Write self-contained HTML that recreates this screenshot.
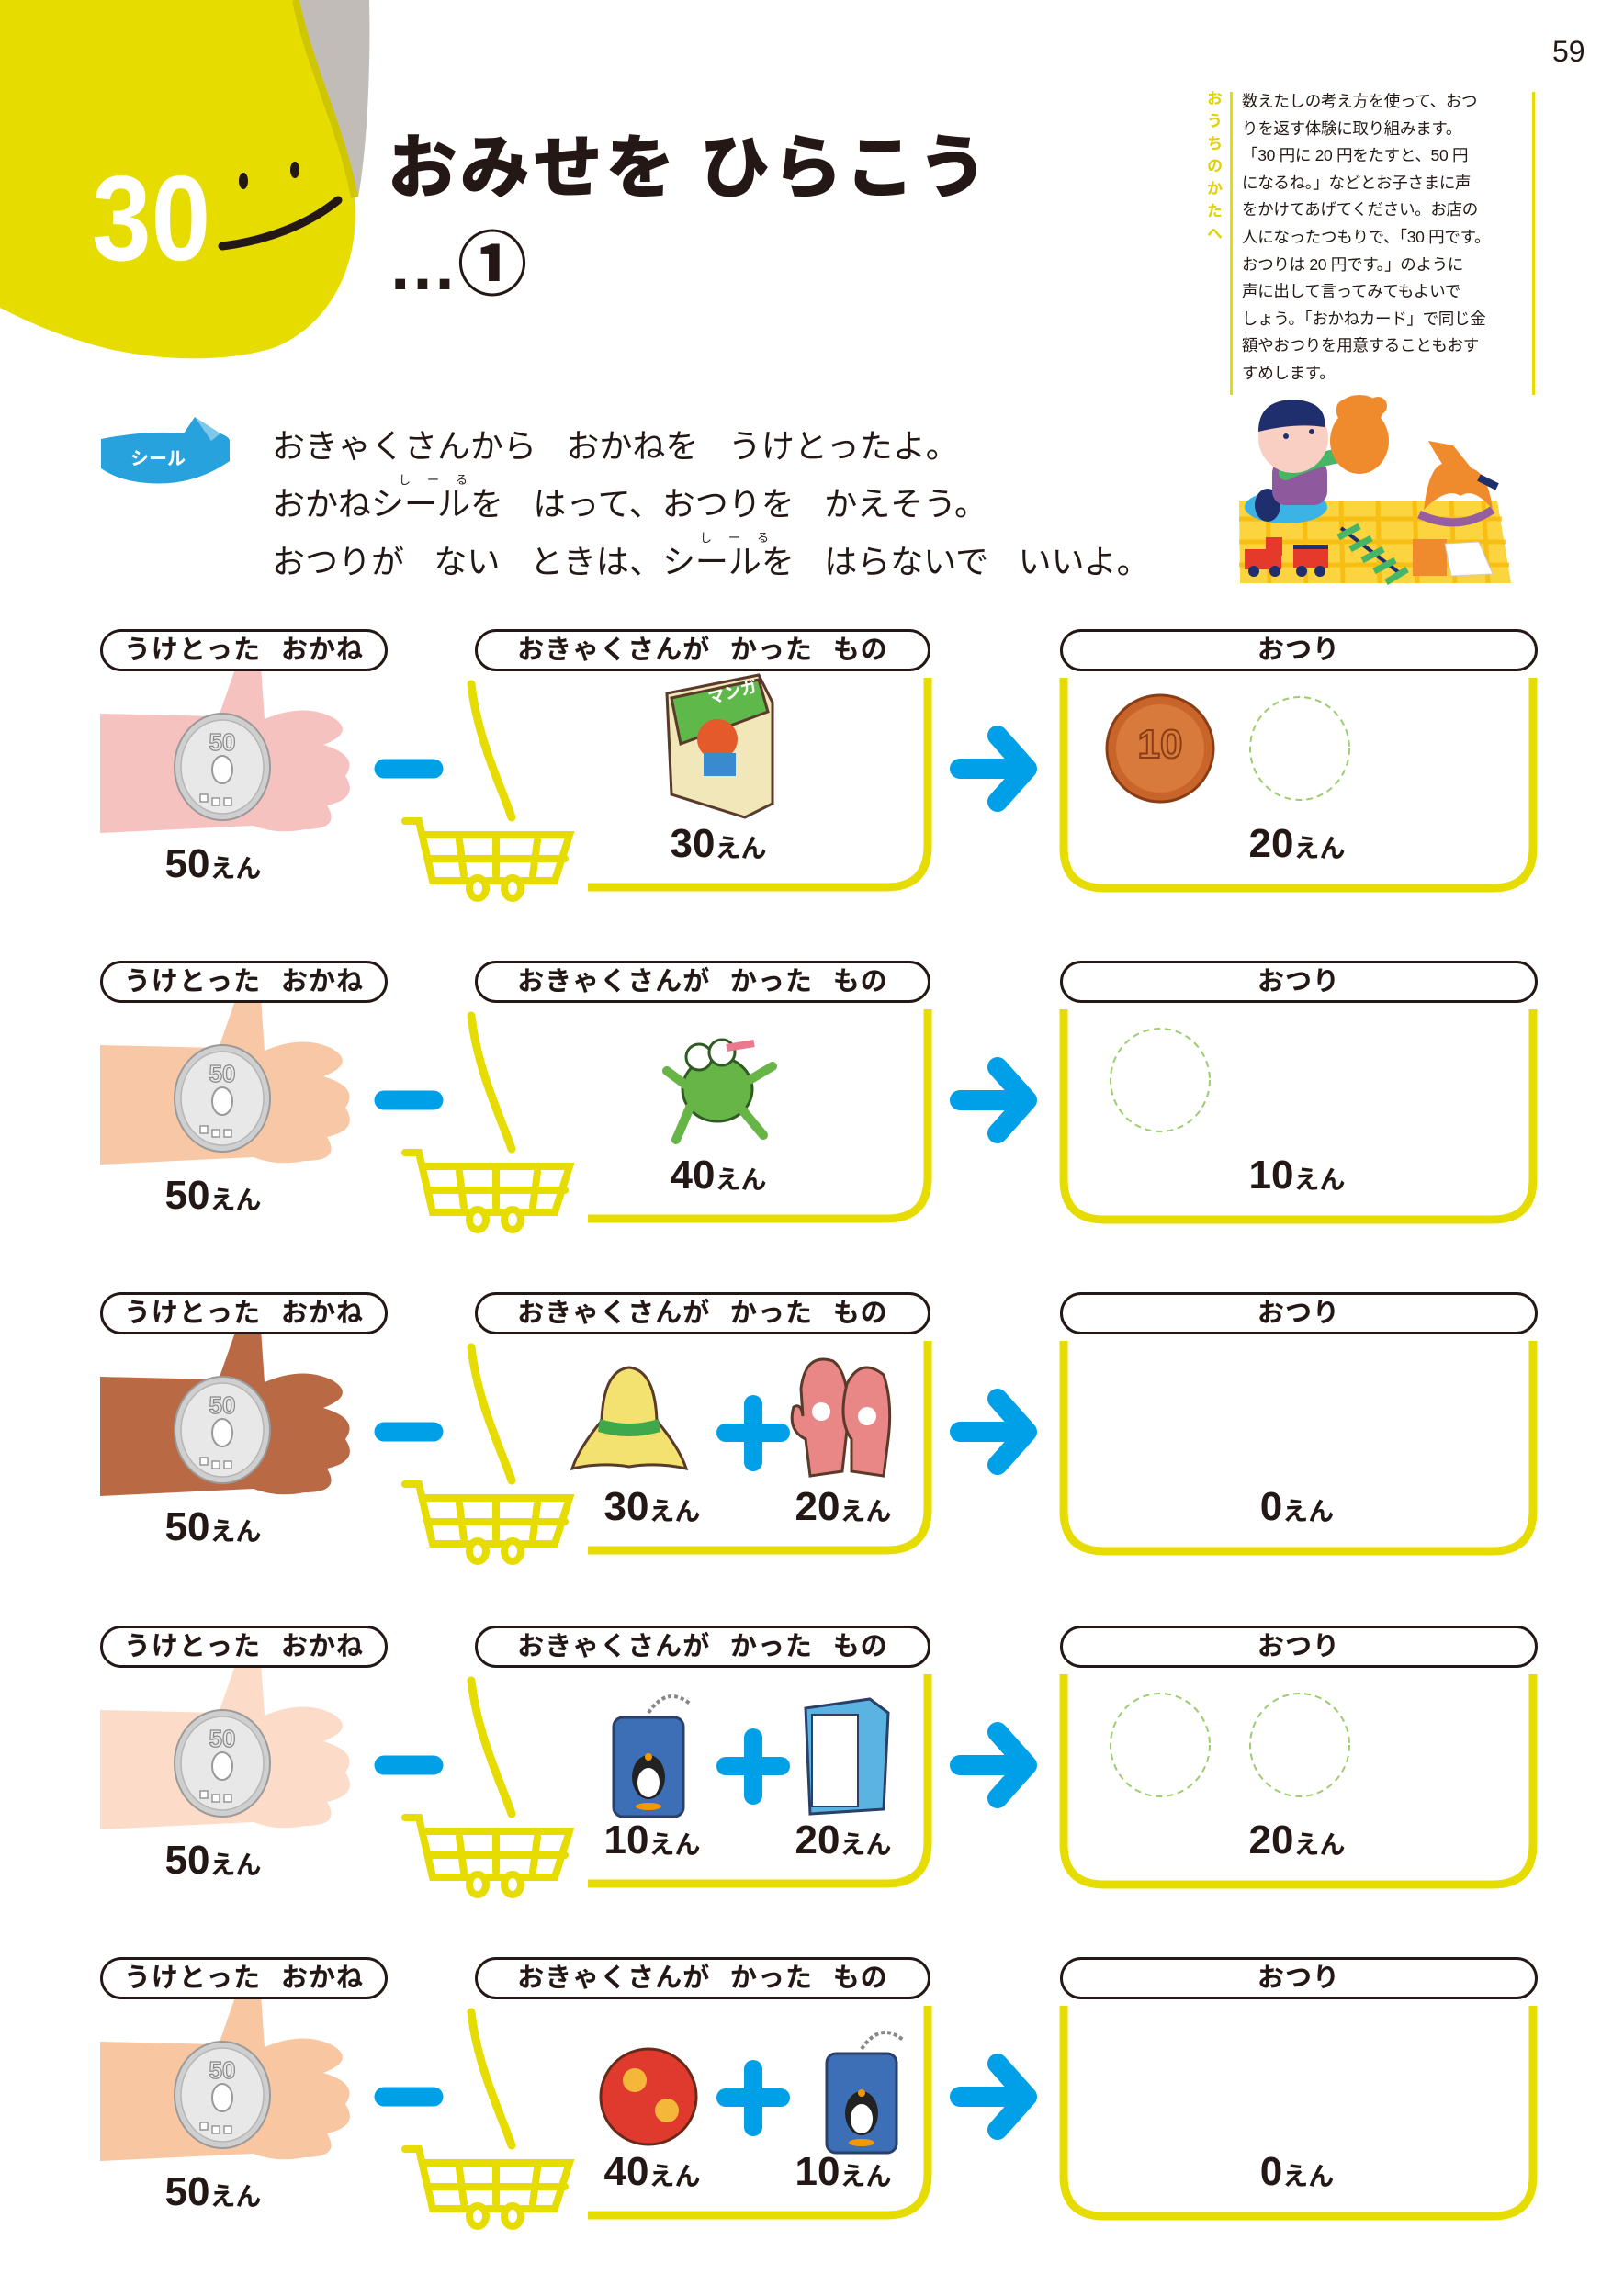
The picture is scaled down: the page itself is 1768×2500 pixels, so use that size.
<!DOCTYPE html>
<html><head><meta charset="utf-8">
<style>
*{margin:0;padding:0;box-sizing:border-box}
body{width:1768px;height:2500px;background:#fff;position:relative;overflow:hidden;font-family:"Liberation Sans","Noto Sans CJK JP",sans-serif;color:#231815}
.a{position:absolute}
.pill{position:absolute;height:46px;border:3px solid #231815;border-radius:23px;background:#fff;font-weight:700;font-size:29px;line-height:40px;text-align:center;white-space:nowrap;letter-spacing:1px}
.sp{display:inline-block;width:0.75em}
.price{position:absolute;font-weight:700;white-space:nowrap;transform:translateX(-50%);line-height:1}
.price b{font-size:44px;font-family:"Liberation Sans","Noto Sans CJK JP",sans-serif;font-weight:700}
.price i{font-style:normal;font-size:28px;font-weight:700}
.row{position:absolute;left:0;width:1768px;height:320px}
.row svg{position:absolute;left:0;top:0;overflow:visible}
.side{position:absolute;left:1352px;top:96px;font-size:17.5px;line-height:29.6px;white-space:nowrap;letter-spacing:-0.3px}
.ins{position:absolute;left:296px;font-size:36px;white-space:nowrap;line-height:1}
.ins .sp{width:0.9em}
.ruby{position:absolute;font-size:13px;letter-spacing:18px;white-space:nowrap}
</style></head><body>

<svg class="a" style="left:0;top:0" width="720" height="420">
<path d="M318,0 H402 C404,90 398,170 390,215 C372,150 340,80 318,0 Z" fill="#c1bcb7"/>
<path d="M0,0 H322 C336,70 372,140 386,215 C392,280 366,350 300,378 C240,398 150,392 90,372 C50,360 20,345 0,335 Z" fill="#e6dc00"/>
<path d="M322,0 C336,70 372,140 386,215" stroke="#cfc500" stroke-width="8" fill="none"/>
<ellipse cx="265" cy="197" rx="5" ry="9" fill="#231815"/>
<ellipse cx="321" cy="185" rx="5" ry="9" fill="#231815"/>
<path d="M242,268 C290,262 335,245 368,218" stroke="#231815" stroke-width="9" stroke-linecap="round" fill="none"/>
</svg>
<div class="a" style="left:100px;top:172px;font-size:132px;font-weight:700;color:#fff;transform:scaleX(0.88);transform-origin:left top;line-height:1">30</div>
<div class="a" style="left:422px;top:146px;font-size:76px;font-weight:900;letter-spacing:3px;white-space:nowrap;line-height:1">おみせを ひらこう</div>
<div class="a" style="left:422px;top:252px;font-size:76px;font-weight:900;white-space:nowrap;line-height:1">…①</div>
<div class="a" style="left:1690px;top:40px;font-size:32px;line-height:1">59</div>

<div class="a" style="left:1308px;top:98px;writing-mode:vertical-rl;font-size:17px;letter-spacing:7.5px;color:#e0d200;font-weight:700">おうちのかたへ</div>
<div class="a" style="left:1339px;top:100px;width:3px;height:330px;background:#e6dc00"></div>
<div class="a" style="left:1668px;top:100px;width:3px;height:330px;background:#e6dc00"></div>
<div class="side">数えたしの考え方を使って、おつ<br>りを返す体験に取り組みます。<br>「30 円に 20 円をたすと、50 円<br>になるね。」などとお子さまに声<br>をかけてあげてください。お店の<br>人になったつもりで、「30 円です。<br>おつりは 20 円です。」のように<br>声に出して言ってみてもよいで<br>しょう。「おかねカード」で同じ金<br>額やおつりを用意することもおす<br>すめします。</div>

<svg class="a" style="left:100px;top:450px" width="170" height="80">
<path d="M10,28 Q60,18 100,22 L112,4 L140,22 Q150,26 150,30 L150,52 Q110,80 60,76 Q30,74 10,60 Z" fill="#27a2dc"/>
<path d="M112,4 L140,22 L130,30" fill="#fff" opacity=".4"/>
<text x="42" y="56" font-size="20" font-weight="700" fill="#fff" font-family="Noto Sans CJK JP">シール</text>
</svg>
<div class="ins" style="top:468px">おきゃくさんから<span class="sp"></span>おかねを<span class="sp"></span>うけとったよ。</div>
<div class="ruby" style="left:434px;top:512px">しーる</div>
<div class="ins" style="top:531px">おかねシールを<span class="sp"></span>はって、おつりを<span class="sp"></span>かえそう。</div>
<div class="ruby" style="left:762px;top:575px">しーる</div>
<div class="ins" style="top:594px">おつりが<span class="sp"></span>ない<span class="sp"></span>ときは、シールを<span class="sp"></span>はらないで<span class="sp"></span>いいよ。</div>

<svg class="a" style="left:1320px;top:430px" width="400" height="220">
<polygon points="29,115 310,115 325,205 30,205" fill="#fbd440"/>
<g stroke="#f7b500" stroke-width="5" opacity=".7">
<line x1="29" y1="135" x2="315" y2="135"/><line x1="29" y1="160" x2="320" y2="160"/><line x1="29" y1="185" x2="323" y2="185"/>
<line x1="60" y1="115" x2="62" y2="205"/><line x1="100" y1="115" x2="102" y2="205"/><line x1="140" y1="115" x2="142" y2="205"/><line x1="180" y1="115" x2="182" y2="205"/><line x1="220" y1="115" x2="223" y2="205"/><line x1="260" y1="115" x2="264" y2="205"/><line x1="295" y1="115" x2="300" y2="205"/></g>
<ellipse cx="80" cy="122" rx="45" ry="18" fill="#3bb4e5"/>
<ellipse cx="60" cy="120" rx="14" ry="18" fill="#1f2f6e"/>
<rect x="65" y="70" width="60" height="50" rx="15" fill="#8e5a9d"/>
<path d="M80,85 Q110,70 145,65" stroke="#47b566" stroke-width="16" fill="none" stroke-linecap="round"/>
<circle cx="88" cy="47" r="38" fill="#f9cfc3"/>
<path d="M50,40 Q50,5 90,5 Q125,8 122,35 Q90,30 50,40 Z" fill="#1f2f6e"/>
<circle cx="80" cy="45" r="3" fill="#1f2f6e"/><circle cx="108" cy="40" r="3" fill="#1f2f6e"/>
<ellipse cx="160" cy="50" rx="32" ry="36" fill="#ef8b2c"/>
<circle cx="145" cy="15" r="10" fill="#ef8b2c"/><circle cx="180" cy="12" r="10" fill="#ef8b2c"/>
<ellipse cx="160" cy="18" rx="25" ry="18" fill="#ef8b2c"/>
<path d="M225,130 Q268,150 305,125" stroke="#965ea1" stroke-width="9" fill="none"/>
<path d="M230,125 Q235,80 250,75 Q240,60 235,50 L262,55 L282,80 Q300,85 305,125 Q285,100 270,110 Q255,100 230,125 Z" fill="#ef8b2c"/>
<path d="M290,90 L310,100" stroke="#1f2f6e" stroke-width="8"/>
<rect x="35" y="168" width="40" height="22" fill="#e53a2b"/><rect x="58" y="155" width="18" height="20" fill="#e53a2b"/>
<rect x="88" y="166" width="38" height="22" fill="#e53a2b"/><rect x="88" y="163" width="38" height="5" fill="#1f2f6e"/>
<circle cx="45" cy="192" r="6" fill="#1f2f6e"/><circle cx="68" cy="192" r="6" fill="#1f2f6e"/><circle cx="97" cy="192" r="6" fill="#1f2f6e"/><circle cx="117" cy="192" r="6" fill="#1f2f6e"/>
<path d="M140,145 L205,195" stroke="#1f2f6e" stroke-width="4"/>
<g stroke="#47b566" stroke-width="7"><line x1="137" y1="155" x2="160" y2="143"/><line x1="150" y1="168" x2="173" y2="156"/><line x1="163" y1="180" x2="186" y2="168"/><line x1="176" y1="192" x2="199" y2="180"/><line x1="189" y1="204" x2="212" y2="190"/></g>
<rect x="218" y="157" width="37" height="40" fill="#ef8b2c"/>
<path d="M253,162 L290,160 L305,195 L260,197 Z" fill="#fff" stroke="#ccc"/>
</svg>

<svg width="0" height="0" style="position:absolute"><defs>
<path id="hand" d="M109,92 L238,95 L258,38 Q272,16 284,40 L288,98 Q330,80 362,96 Q388,112 352,126 Q392,138 376,160 Q392,184 356,192 Q372,218 332,218 Q300,224 276,214 L109,222 Z"/>
<g id="coin50"><ellipse cx="242" cy="150" rx="52" ry="58" fill="#cfcfcf" stroke="#9a9a9a" stroke-width="2"/><ellipse cx="242" cy="150" rx="45" ry="51" fill="#e8e8e8" stroke="#b5b5b5" stroke-width="1.5"/><ellipse cx="242" cy="153" rx="11" ry="15" fill="#fff" stroke="#999" stroke-width="2"/><text x="242" y="132" font-size="26" text-anchor="middle" fill="#e8e8e8" stroke="#888" stroke-width="1.2" font-family="Liberation Sans" font-weight="700">50</text><g fill="#fff" stroke="#888" stroke-width="1.3"><rect x="218" y="180" width="8" height="8"/><rect x="231" y="184" width="8" height="8"/><rect x="244" y="184" width="8" height="8"/></g></g>
<g id="cart" fill="none" stroke="#e6dc00" stroke-width="8" stroke-linecap="round"><path d="M441,209 H456 L471,274 H510 M530,274 H548 M568,274 H604 L620,224 H463"/><line x1="468" y1="250" x2="615" y2="250"/><line x1="500" y1="230" x2="505" y2="268"/><line x1="540" y1="228" x2="540" y2="268"/><line x1="585" y1="230" x2="580" y2="268"/><ellipse cx="520" cy="282" rx="9" ry="11"/><ellipse cx="558" cy="282" rx="9" ry="11"/></g>
<g id="common"><path d="M513,60 C520,120 545,170 557,205" stroke="#e6dc00" stroke-width="9" stroke-linecap="round" fill="none"/><path d="M640,281 H965 Q1010,281 1010,236 V53" stroke="#e6dc00" stroke-width="9" fill="none"/><line x1="418" y1="152" x2="472" y2="152" stroke="#00a0e9" stroke-width="21" stroke-linecap="round"/><line x1="1045" y1="152" x2="1105" y2="152" stroke="#00a0e9" stroke-width="22" stroke-linecap="round"/><path d="M1086,116 L1118,152 L1086,188" stroke="#00a0e9" stroke-width="22" stroke-linecap="round" stroke-linejoin="round" fill="none"/><path d="M1158,53 V238 Q1158,282 1202,282 H1625 Q1669,282 1669,238 V53" stroke="#e6dc00" stroke-width="9" fill="none"/><use href="#cart"/></g>
<g id="plus"><line x1="820" y1="122" x2="820" y2="185" stroke="#00a0e9" stroke-width="20" stroke-linecap="round"/><line x1="790" y1="153" x2="850" y2="153" stroke="#00a0e9" stroke-width="20" stroke-linecap="round"/></g>
<g id="bag"><path d="M0,-60 Q20,-90 45,-70" stroke="#888" stroke-width="4" fill="none" stroke-dasharray="4 3"/><rect x="-38" y="-55" width="76" height="108" rx="10" fill="#3d6fb6" stroke="#2a3f6a" stroke-width="3"/><ellipse cx="0" cy="10" rx="18" ry="24" fill="#222"/><ellipse cx="0" cy="16" rx="12" ry="16" fill="#fff"/><circle cx="0" cy="-12" r="4" fill="#f39800"/><ellipse cx="0" cy="42" rx="14" ry="4" fill="#f39800"/></g>
<g id="dash"><ellipse cx="0" cy="0" rx="54" ry="56" fill="none" stroke="#9ccd6e" stroke-width="2" stroke-dasharray="7 5"/></g>
</defs></svg>

<!-- ROW 1 -->
<div class="row" style="top:685px">
<svg width="1768" height="320"><use href="#hand" fill="#f6c2bf"/><use href="#coin50"/><use href="#common"/>
<g transform="translate(786,130)"><polygon points="-60,-60 40,-80 55,-50 55,60 25,75 -55,50" fill="#f1e7b9" stroke="#5a3a2a" stroke-width="3"/><polygon points="-55,-55 40,-75 50,-40 -45,-5" fill="#5fb84a" stroke="#5a3a2a" stroke-width="3"/><circle cx="-5" cy="-10" r="22" fill="#e55a2a"/><rect x="-20" y="5" width="35" height="25" fill="#3a8ad0"/><text x="0" y="-50" font-size="18" fill="#fff" font-family="Noto Sans CJK JP" font-weight="700" transform="rotate(-15)">マンガ</text></g>
<g transform="translate(1263,130)"><ellipse rx="58" ry="58" fill="#c9652b" stroke="#8a3d14" stroke-width="3"/><ellipse rx="48" ry="48" fill="#d77a3c"/><text x="0" y="10" font-size="44" text-anchor="middle" fill="#d77a3c" stroke="#8a3d14" stroke-width="2" font-family="Liberation Sans" font-weight="700">10</text></g>
<use href="#dash" transform="translate(1415,130)"/>
</svg>
<div class="pill" style="left:109px;top:0;width:313px">うけとった<span class="sp"></span>おかね</div>
<div class="pill" style="left:517px;top:0;width:496px">おきゃくさんが<span class="sp"></span>かった<span class="sp"></span>もの</div>
<div class="pill" style="left:1154px;top:0;width:520px">おつり</div>
<div class="price" style="left:232px;top:234px"><b>50</b><i>えん</i></div>
<div class="price" style="left:782px;top:212px"><b>30</b><i>えん</i></div>
<div class="price" style="left:1412px;top:212px"><b>20</b><i>えん</i></div>
</div>

<!-- ROW 2 -->
<div class="row" style="top:1046px">
<svg width="1768" height="320"><use href="#hand" fill="#f8c8a6"/><use href="#coin50"/><use href="#common"/>
<g transform="translate(781,140)"><ellipse cx="0" cy="0" rx="38" ry="35" fill="#68b547" stroke="#2f5a22" stroke-width="3"/><circle cx="-20" cy="-35" r="14" fill="#fff" stroke="#2f5a22" stroke-width="3"/><circle cx="5" cy="-40" r="14" fill="#fff" stroke="#2f5a22" stroke-width="3"/><path d="M-30,20 L-45,55 M25,20 L50,50 M-35,-5 L-55,-20 M35,-10 L60,-25" stroke="#68b547" stroke-width="10" stroke-linecap="round"/><path d="M10,-45 L40,-50" stroke="#e8798e" stroke-width="8"/></g>
<use href="#dash" transform="translate(1263,130)"/>
</svg>
<div class="pill" style="left:109px;top:0;width:313px">うけとった<span class="sp"></span>おかね</div>
<div class="pill" style="left:517px;top:0;width:496px">おきゃくさんが<span class="sp"></span>かった<span class="sp"></span>もの</div>
<div class="pill" style="left:1154px;top:0;width:520px">おつり</div>
<div class="price" style="left:232px;top:234px"><b>50</b><i>えん</i></div>
<div class="price" style="left:782px;top:212px"><b>40</b><i>えん</i></div>
<div class="price" style="left:1412px;top:212px"><b>10</b><i>えん</i></div>
</div>

<!-- ROW 3 -->
<div class="row" style="top:1407px">
<svg width="1768" height="320"><use href="#hand" fill="#b96a45"/><use href="#coin50"/><use href="#common"/>
<g transform="translate(685,150)"><path d="M-30,-10 Q-28,-65 0,-68 Q28,-65 30,-10 Q55,20 62,42 Q30,35 0,40 Q-30,35 -62,42 Q-55,20 -30,-10 Z" fill="#f3e270" stroke="#5a3a2a" stroke-width="3"/><path d="M-32,-12 Q0,-2 32,-12 L34,2 Q0,12 -34,2 Z" fill="#3ea94a"/></g>
<use href="#plus"/>
<g transform="translate(922,150)"><path d="M-50,-45 Q-45,-85 -15,-75 Q5,-60 0,0 L-5,45 L-40,50 L-45,10 Q-65,0 -58,-25 Q-50,-30 -48,-15 Z" fill="#e98787" stroke="#5a3a2a" stroke-width="3"/><path d="M0,-50 Q15,-80 40,-60 Q50,-30 45,10 L40,50 L5,45 L5,10 Q-10,-10 0,-50 Z" fill="#e98787" stroke="#5a3a2a" stroke-width="3"/><circle cx="-28" cy="-20" r="10" fill="#fff"/><circle cx="22" cy="-15" r="10" fill="#fff"/></g>
</svg>
<div class="pill" style="left:109px;top:0;width:313px">うけとった<span class="sp"></span>おかね</div>
<div class="pill" style="left:517px;top:0;width:496px">おきゃくさんが<span class="sp"></span>かった<span class="sp"></span>もの</div>
<div class="pill" style="left:1154px;top:0;width:520px">おつり</div>
<div class="price" style="left:232px;top:234px"><b>50</b><i>えん</i></div>
<div class="price" style="left:710px;top:212px"><b>30</b><i>えん</i></div>
<div class="price" style="left:918px;top:212px"><b>20</b><i>えん</i></div>
<div class="price" style="left:1412px;top:212px"><b>0</b><i>えん</i></div>
</div>

<!-- ROW 4 -->
<div class="row" style="top:1770px">
<svg width="1768" height="320"><use href="#hand" fill="#fcdcc8"/><use href="#coin50"/><use href="#common"/>
<use href="#bag" transform="translate(706,155)"/>
<use href="#plus"/>
<g transform="translate(922,145)"><polygon points="-45,-55 25,-65 45,-50 40,55 -40,60" fill="#5ab3e0" stroke="#2a3f6a" stroke-width="3"/><rect x="-38" y="-48" width="50" height="100" fill="#fff" stroke="#2a3f6a" stroke-width="2"/></g>
<use href="#dash" transform="translate(1263,130)"/><use href="#dash" transform="translate(1415,130)"/>
</svg>
<div class="pill" style="left:109px;top:0;width:313px">うけとった<span class="sp"></span>おかね</div>
<div class="pill" style="left:517px;top:0;width:496px">おきゃくさんが<span class="sp"></span>かった<span class="sp"></span>もの</div>
<div class="pill" style="left:1154px;top:0;width:520px">おつり</div>
<div class="price" style="left:232px;top:234px"><b>50</b><i>えん</i></div>
<div class="price" style="left:710px;top:212px"><b>10</b><i>えん</i></div>
<div class="price" style="left:918px;top:212px"><b>20</b><i>えん</i></div>
<div class="price" style="left:1412px;top:212px"><b>20</b><i>えん</i></div>
</div>

<!-- ROW 5 -->
<div class="row" style="top:2131px">
<svg width="1768" height="320"><use href="#hand" fill="#f8c7a2"/><use href="#coin50"/><use href="#common"/>
<g transform="translate(706,152)"><circle r="52" fill="#e03a2e" stroke="#6a2a1a" stroke-width="3"/><circle cx="-15" cy="-18" r="13" fill="#f5b73a"/><circle cx="20" cy="15" r="13" fill="#f5b73a"/></g>
<use href="#plus"/>
<use href="#bag" transform="translate(938,160)"/>
</svg>
<div class="pill" style="left:109px;top:0;width:313px">うけとった<span class="sp"></span>おかね</div>
<div class="pill" style="left:517px;top:0;width:496px">おきゃくさんが<span class="sp"></span>かった<span class="sp"></span>もの</div>
<div class="pill" style="left:1154px;top:0;width:520px">おつり</div>
<div class="price" style="left:232px;top:234px"><b>50</b><i>えん</i></div>
<div class="price" style="left:710px;top:212px"><b>40</b><i>えん</i></div>
<div class="price" style="left:918px;top:212px"><b>10</b><i>えん</i></div>
<div class="price" style="left:1412px;top:212px"><b>0</b><i>えん</i></div>
</div>

</body></html>
